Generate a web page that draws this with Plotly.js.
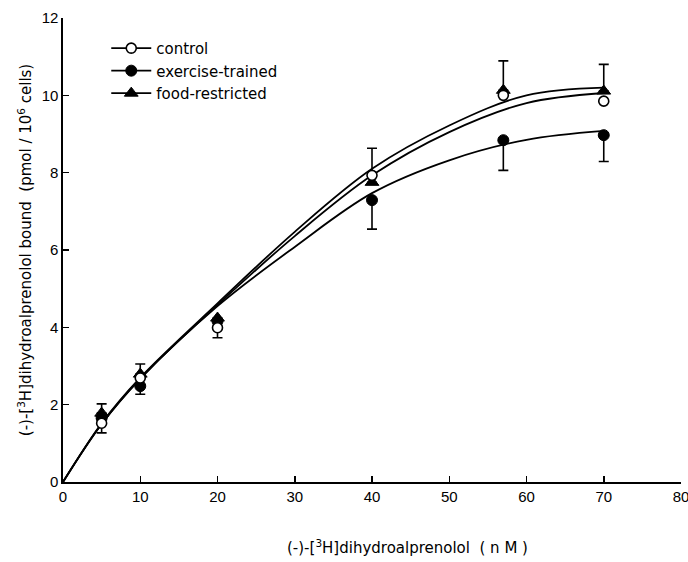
<!DOCTYPE html>
<html>
<head>
<meta charset="utf-8">
<script src="https://cdn.plot.ly/plotly-3.0.1.min.js"></script>
<style>html,body{margin:0;padding:0;background:#fff;}#chart{width:688px;height:562px;}</style>
</head>
<body>
<div id="chart"></div>
<script>
// Measured points (concentration in nM)
const concX = [5, 10, 20, 40, 57, 70];
const controlY = [1.52, 2.69, 3.99, 7.93, 10.0, 9.85];
const controlErrUp = [0, 0, 0, 0.70, 0, 0];
const controlErrDown = [0.25, 0, 0.26, 0, 0, 0];
const exerciseY = [1.65, 2.48, 4.16, 7.29, 8.84, 8.97];
const exerciseErrUp = [0, 0, 0, 0, 0, 0];
const exerciseErrDown = [0, 0.21, 0, 0.75, 0.78, 0.68];
const foodY = [1.78, 2.79, 4.24, 7.75, 10.13, 10.11];
const foodErrUp = [0.24, 0.26, 0, 0, 0.76, 0.69];
const foodErrDown = [0, 0, 0, 0, 0, 0];

// Fitted curves
const curveX = [0, 5, 10, 20, 30, 40, 50, 60, 70];
const controlCurve = [0, 1.5, 2.68, 4.58, 6.36, 7.93, 9.05, 9.8, 10.06];
const exerciseCurve = [0, 1.5, 2.67, 4.55, 6.08, 7.47, 8.32, 8.85, 9.08];
const foodCurve = [0, 1.52, 2.7, 4.62, 6.47, 8.1, 9.22, 10.0, 10.2];

const seriesNames = ['control', 'exercise-trained', 'food-restricted'];
const xTitle = '(-)-[<sup>3</sup>H]dihydroalprenolol  ( n M )';
const yTitle = '(-)-[<sup>3</sup>H]dihydroalprenolol bound  (pmol / 10<sup>6</sup> cells)';

const lineStyle = {color: '#000', width: 1.8, shape: 'spline', smoothing: 1};

function errBar(up, down) {
  return {type: 'data', symmetric: false, array: up, arrayminus: down,
          color: '#000', thickness: 1.6, width: 5};
}

const markExercise = {symbol: 'circle', size: 11, color: '#000', line: {color: '#000', width: 1}};
const markFood = {symbol: 'triangle-up', size: 12, color: '#000', line: {color: '#000', width: 1}};
const markControl = {symbol: 'circle', size: 10, color: '#fff', line: {color: '#000', width: 1.6}};

const traces = [
  {x: curveX, y: exerciseCurve, mode: 'lines', line: lineStyle, showlegend: false, hoverinfo: 'skip'},
  {x: curveX, y: controlCurve, mode: 'lines', line: lineStyle, showlegend: false, hoverinfo: 'skip'},
  {x: curveX, y: foodCurve, mode: 'lines', line: lineStyle, showlegend: false, hoverinfo: 'skip'},
  {x: concX, y: exerciseY, mode: 'markers', marker: markExercise,
   error_y: errBar(exerciseErrUp, exerciseErrDown), showlegend: false},
  {x: concX, y: foodY, mode: 'markers', marker: markFood,
   error_y: errBar(foodErrUp, foodErrDown), showlegend: false},
  {x: concX, y: controlY, mode: 'markers', marker: markControl,
   error_y: errBar(controlErrUp, controlErrDown), showlegend: false},
  // legend entries
  {x: [null], y: [null], name: seriesNames[0], mode: 'lines+markers', line: {color: '#000', width: 1.6}, marker: markControl},
  {x: [null], y: [null], name: seriesNames[1], mode: 'lines+markers', line: {color: '#000', width: 1.6}, marker: markExercise},
  {x: [null], y: [null], name: seriesNames[2], mode: 'lines+markers', line: {color: '#000', width: 1.6}, marker: markFood}
];

const tickFont = {family: 'Liberation Sans, Arial, sans-serif', size: 15, color: '#000'};
const textFont = {family: 'DejaVu Sans, sans-serif', size: 15, color: '#000'};

const layout = {
  width: 688, height: 562,
  margin: {l: 63, r: 7, t: 18, b: 80},
  paper_bgcolor: '#fff', plot_bgcolor: '#fff',
  font: tickFont,
  showlegend: true,
  legend: {x: 0.07, y: 0.97, xanchor: 'left', yanchor: 'top',
           bgcolor: 'rgba(0,0,0,0)', font: textFont,
           tracegroupgap: 0, itemwidth: 40, traceorder: 'normal'},
  xaxis: {
    range: [0, 80], dtick: 10, tick0: 0,
    showline: true, linecolor: '#000', linewidth: 1.6,
    ticks: 'inside', ticklen: 6, tickwidth: 1.5, tickcolor: '#000',
    showgrid: false, zeroline: false, tickfont: tickFont,
    ticklabeloverflow: 'allow'
  },
  yaxis: {
    range: [0, 12], dtick: 2, tick0: 0,
    showline: true, linecolor: '#000', linewidth: 1.6,
    ticks: 'inside', ticklen: 6, tickwidth: 1.5, tickcolor: '#000',
    showgrid: false, zeroline: false, tickfont: tickFont,
    title: {text: yTitle, font: textFont, standoff: 6}
  },
  annotations: [
    {text: xTitle, xref: 'paper', yref: 'paper', x: 0.557, y: -0.14,
     xanchor: 'center', yanchor: 'middle', showarrow: false, font: textFont}
  ]
};

Plotly.newPlot('chart', traces, layout, {staticPlot: true, displayModeBar: false});
</script>
</body>
</html>
